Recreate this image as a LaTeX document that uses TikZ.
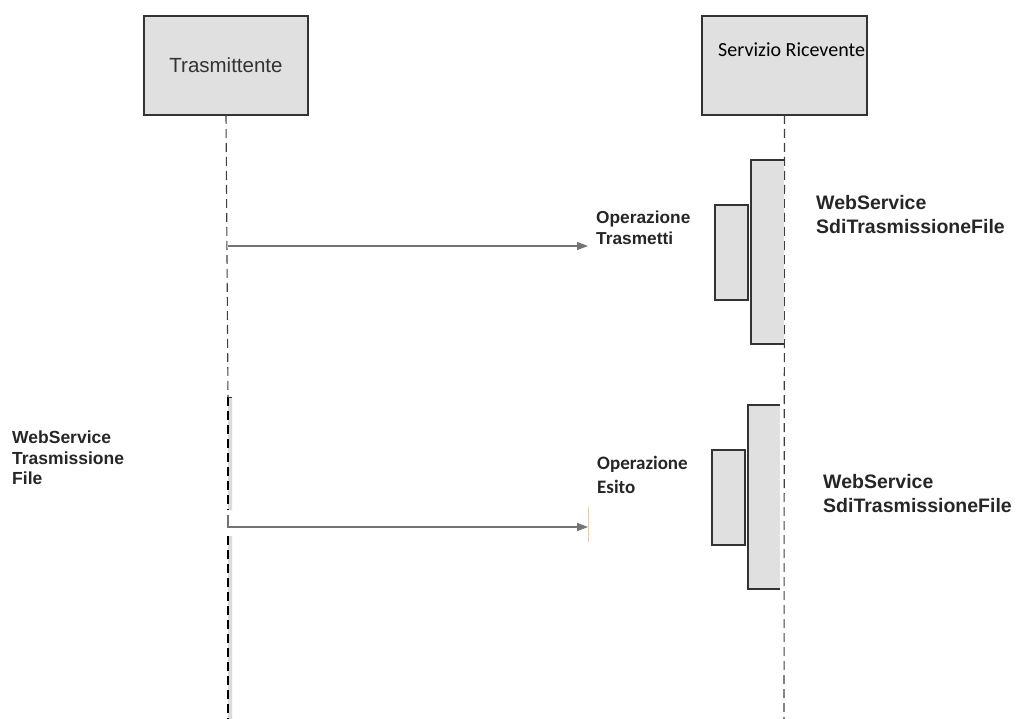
\documentclass[tikz,border=0pt]{standalone}
\usepackage{fontspec}
\setmainfont{Liberation Sans}
\newfontfamily\calibri{Carlito}
\usetikzlibrary{arrows.meta}

\begin{document}
\begin{tikzpicture}[x=1pt,y=-1pt,
    box/.style={draw=black!80,fill=black!12,line width=1.3pt,inner sep=0,outer sep=0},
    act/.style={fill=black!12,inner sep=0,outer sep=0},
    life/.style={draw=black!75,line width=1.1pt,dash pattern=on 9pt off 5pt},
    msg/.style={draw=black!55,line width=1.2pt,-{Triangle[length=11pt,width=8pt]}},
    lbl/.style={inner sep=0,anchor=west,align=left,text=black!85}]
    \useasboundingbox (0,0) rectangle (1016,719);

    % partecipanti
    \node[box,minimum width=164pt,minimum height=99pt,text=black!80,
      font=\fontsize{20.5}{24}\selectfont] (Tr) at (226,65.5) {Trasmittente};
    \node[box,minimum width=165pt,minimum height=99pt] (Sr) at (784.5,65.5) {};
    \node[lbl,font=\calibri\fontsize{20}{24}\selectfont,text=black] (SrT) at (718,50) {Servizio Ricevente};

    % linee di vita
    \coordinate (L0) at (228,719);
    \coordinate (B1) at (228,397);
    \coordinate (B1e) at (232,510);
    \coordinate (B2) at (228,536);
    \coordinate (B2e) at (232,719);
    \coordinate (R0) at (784,719);
    \fill[black!14] (B1) rectangle (B1e) (B2) rectangle (B2e);
    \draw[life] (Tr.south) -- (B1);
    \draw[life,draw=black] (B1) -- (B1|-B1e) (B2) -- (L0);
    \draw[black!80,line width=0.8pt] (B1) -- (B1-|B1e);
    \draw[life] (Sr.south) -- (R0);

    % attivazioni
    \node[act,minimum width=33pt,minimum height=184pt] (A1) at (767.5,252) {};
    \draw[black!80,line width=1.3pt] (A1.north east) -- (A1.north west) -- (A1.south west) -- (A1.south east);
    \node[box,minimum width=33pt,minimum height=95pt] (C1) at (731.5,252.5) {};
    \node[act,minimum width=32pt,minimum height=184pt] (A2) at (764,497) {};
    \draw[black!80,line width=1.3pt] (A2.north east) -- (A2.north west) -- (A2.south west) -- (A2.south east);
    \node[box,minimum width=33pt,minimum height=95pt] (C2) at (728.5,497.5) {};

    % messaggi
    \coordinate (S1) at (228,246);
    \coordinate (E1) at (588,246);
    \coordinate (S2) at (228,515);
    \coordinate (E2) at (588,527);
    \draw[msg] (S1) -- (E1);
    \draw[msg] (S2) |- (E2);
    \draw[orange!45,line width=0.8pt] (588,507) -- (588,542);

    % etichette
    \node[lbl,font=\bfseries\fontsize{17.3}{21}\selectfont] (Op1) at (596,228) {Operazione\\Trasmetti};
    \node[lbl,font=\calibri\bfseries\fontsize{19}{24}\selectfont] (Op2) at (597,475) {Operazione\\Esito};
    \node[lbl,font=\bfseries\fontsize{19.5}{24}\selectfont] (Ws1) at (816,215) {WebService\\SdiTrasmissioneFile};
    \node[lbl,font=\bfseries\fontsize{19.5}{24}\selectfont] (Ws2) at (823,494) {WebService\\SdiTrasmissioneFile};
    \node[lbl,font=\bfseries\fontsize{17.5}{20.5}\selectfont] (Ws0) at (12,458) {WebService\\Trasmissione\\File};
  \end{tikzpicture}
\end{document}
